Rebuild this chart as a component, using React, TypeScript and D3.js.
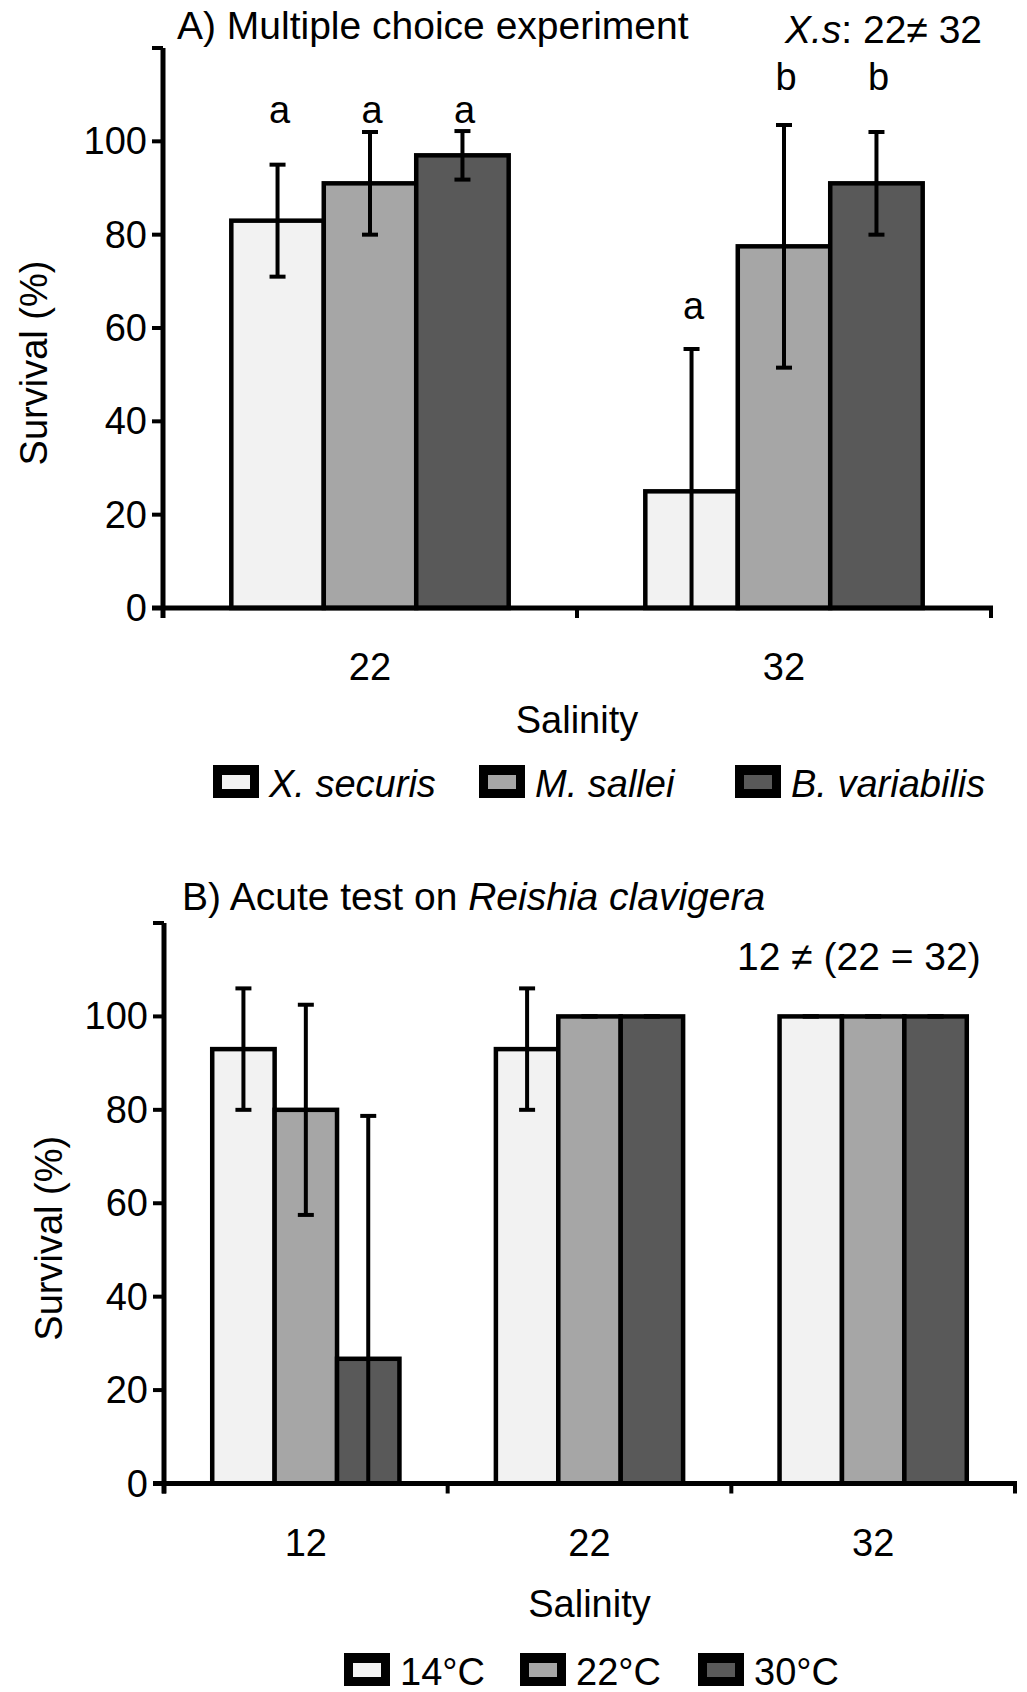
import React from 'react';
import * as d3 from 'd3';

// panel A: multiple choice experiment
const catsA = ['22', '32'];
const speciesA = ['X. securis', 'M. sallei', 'B. variabilis'];
const meanA = [
  [83, 25],
  [91, 77.5],
  [97, 91],
];
const errA = [
  [12, 30.5],
  [11, 26],
  [5.2, 11],
];
const lettersA = [
  ['a', 'a'],
  ['a', 'b'],
  ['a', 'b'],
];
const letterLevelA = [
  [104, 62],
  [104, 111],
  [104, 111],
];

// panel B: acute test
const catsB = ['12', '22', '32'];
const tempsB = ['14°C', '22°C', '30°C'];
const meanB = [
  [93, 93, 100],
  [80, 100, 100],
  [26.7, 100, 100],
];
const errB = [
  [13, 13, 0],
  [22.5, 0, 0],
  [52, 0, 0],
];

const yTicks = [0, 20, 40, 60, 80, 100, 120];
const yLabels = [0, 20, 40, 60, 80, 100];

const fills = ['#f2f2f2', '#a6a6a6', '#595959'];
const font = '"Liberation Sans", Arial, sans-serif';

function Panel({ cats, series, means, errs, x0, x1, yBottom, yTop, inset, letters, letterLevels, labelX, titleGap }) {
  const x = d3.scaleBand().domain(cats).range([x0, x1]);
  const bw = x.bandwidth();
  const inner = d3.scaleBand().domain(series).range([bw * inset, bw * (1 - inset)]);
  const y = d3.scaleLinear().domain([0, 120]).range([yBottom, yTop]);

  const bars = [];
  const errors = [];
  const marks = [];
  series.forEach((s, si) => {
    cats.forEach((c, ci) => {
      const v = means[si][ci];
      const e = errs[si][ci];
      const bx = x(c) + inner(s);
      const cx = bx + inner.bandwidth() / 2;
      bars.push(
        <rect key={`b${si}${ci}`} x={bx} y={y(v)} width={inner.bandwidth()} height={y(0) - y(v)}
          fill={fills[si]} stroke="#000" strokeWidth={4.5} />
      );
      const lo = y(Math.max(0, v - e));
      const hi = y(v + e);
      errors.push(
        <g key={`e${si}${ci}`} stroke="#000" strokeWidth={4}>
          <line x1={cx} x2={cx} y1={lo} y2={hi} />
          <line x1={cx - 8} x2={cx + 8} y1={hi} y2={hi} />
          {v - e > 0 && <line x1={cx - 8} x2={cx + 8} y1={lo} y2={lo} />}
        </g>
      );
      if (letters) {
        marks.push(
          <text key={`l${si}${ci}`} x={cx + 2} y={y(letterLevels[si][ci])} textAnchor="middle" fontSize={38}>
            {letters[si][ci]}
          </text>
        );
      }
    });
  });

  const boundaries = cats.map(c => x(c)).concat([x1]);

  return (
    <g fontFamily={font} fill="#000">
      {bars}
      {errors}
      {marks}
      {/* y axis */}
      <line x1={x0} x2={x0} y1={y(120)} y2={y(0) + 10} stroke="#000" strokeWidth={5} />
      {yTicks.map(t => (
        <line key={t} x1={x0 - 11} x2={x0} y1={y(t)} y2={y(t)} stroke="#000" strokeWidth={4} />
      ))}
      {yLabels.map(t => (
        <text key={t} x={x0 - 16} y={y(t) + 13} textAnchor="end" fontSize={38}>{t}</text>
      ))}
      {/* x axis */}
      <line x1={x0 - 11} x2={x1 + 2} y1={y(0)} y2={y(0)} stroke="#000" strokeWidth={5} />
      {boundaries.map((b, i) => (
        <line key={i} x1={b} x2={b} y1={y(0)} y2={y(0) + 10} stroke="#000" strokeWidth={4} />
      ))}
      {cats.map(c => (
        <text key={c} x={x(c) + bw / 2} y={y(0) + 72} textAnchor="middle" fontSize={38}>{c}</text>
      ))}
      <text x={(x0 + x1) / 2} y={y(0) + titleGap} textAnchor="middle" fontSize={38}>Salinity</text>
      <text transform={`translate(${labelX},${(y(0) + y(120)) / 2 + 35}) rotate(-90)`} textAnchor="middle" fontSize={38}>
        Survival (%)
      </text>
    </g>
  );
}

function Legend({ items, boxX, y, italic }) {
  return (
    <g fontFamily={font}>
      {items.map((it, i) => (
        <g key={it}>
          <rect x={boxX[i]} y={y - 32} width={46} height={33} fill="#000" />
          <rect x={boxX[i] + 9} y={y - 22} width={28} height={14} fill={fills[i]} />
          <text x={boxX[i] + 56} y={y} fontSize={38} fontStyle={italic ? 'italic' : 'normal'}>{it}</text>
        </g>
      ))}
    </g>
  );
}

export default function App() {
  return (
    <svg width={1027} height={1692} style={{ position: 'absolute', left: 0, top: 0, background: '#fff' }}>
      <rect width={1027} height={1692} fill="#fff" />
      <text x={177} y={39} fontFamily={font} fontSize={39}>A) Multiple choice experiment</text>
      <text x={785} y={43} fontFamily={font} fontSize={39}>
        <tspan fontStyle="italic">X.s</tspan>: 22≠ 32
      </text>
      <Panel cats={catsA} series={speciesA} means={meanA} errs={errA}
        x0={163} x1={991} yBottom={608} yTop={48} inset={0.165}
        letters={lettersA} letterLevels={letterLevelA} labelX={47} titleGap={125} />
      <Legend items={speciesA} boxX={[213, 479, 735]} y={797} italic />

      <text x={182} y={910} fontFamily={font} fontSize={39}>
        B) Acute test on <tspan fontStyle="italic">Reishia clavigera</tspan>
      </text>
      <text x={737} y={970} fontFamily={font} fontSize={39}>12 ≠ (22 = 32)</text>
      <Panel cats={catsB} series={tempsB} means={meanB} errs={errB}
        x0={164} x1={1015} yBottom={1483.5} yTop={923} inset={0.17}
        labelX={62} titleGap={133} />
      <Legend items={tempsB} boxX={[344, 520, 698]} y={1685} />
    </svg>
  );
}
